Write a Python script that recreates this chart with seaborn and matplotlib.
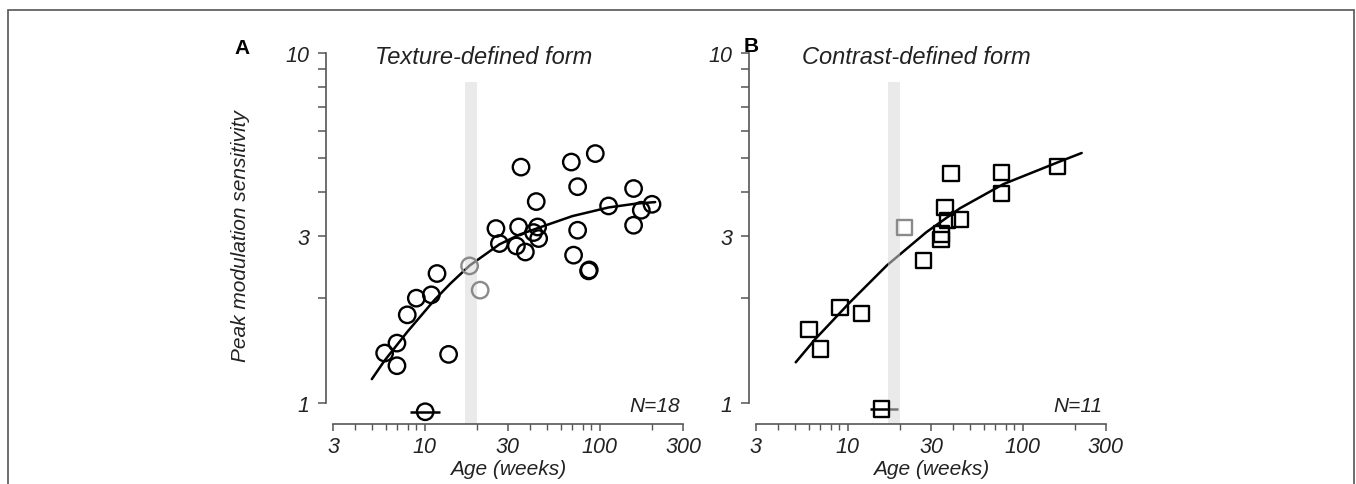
import numpy as np
import pandas as pd
import matplotlib
matplotlib.use("Agg")
import matplotlib.pyplot as plt
from matplotlib.ticker import NullFormatter
from matplotlib.patches import Rectangle
import seaborn as sns

# ---------------- data ----------------
texture_age = [5.92, 6.96, 6.96, 7.97, 8.98, 10.94, 11.79, 13.73, 25.6, 26.8, 33.5, 34.5,
               35.6, 37.7, 42.0, 43.5, 44.3, 44.9, 69.0, 71.1, 75.0, 75.0, 86.6, 87.4,
               94.6, 112.7, 156.6, 156.6, 173.3, 199.5]
texture_sens = [1.389, 1.483, 1.278, 1.786, 1.993, 2.037, 2.344, 1.377, 3.151, 2.855, 2.81, 3.184,
                4.72, 2.70, 3.069, 3.763, 3.184, 2.95, 4.88, 2.645, 4.15, 3.116, 2.385, 2.40,
                5.16, 3.656, 4.10, 3.22, 3.554, 3.696]
texture_gray_age = [18.1, 20.8]
texture_gray_sens = [2.465, 2.101]
texture_fit_age = [5.0, 5.9, 8.0, 11.3, 14.0, 18.1, 26.8, 35.0, 47.7, 70.0, 112.7, 160.0, 208]
texture_fit_sens = [1.17, 1.32, 1.60, 1.96, 2.19, 2.47, 2.84, 3.03, 3.20, 3.42, 3.62, 3.71, 3.75]
texture_ref = {"age": 10.09, "lo": 8.22, "hi": 12.31, "sens": 0.944}

contrast_age = [6.03, 7.03, 9.06, 12.05, 27.1, 34.2, 34.5, 36.1, 37.4, 39.0, 43.9, 76.1, 76.1, 158.9]
contrast_sens = [1.62, 1.427, 1.877, 1.804, 2.55, 2.93, 3.04, 3.62, 3.33, 4.53, 3.34, 4.56, 3.97, 4.73]
contrast_gray_age = [21.1]
contrast_gray_sens = [3.177]
contrast_fit_age = [5.06, 6.52, 10.33, 16.75, 28.3, 43.9, 77.7, 163.8, 217.9]
contrast_fit_sens = [1.307, 1.52, 1.94, 2.47, 3.08, 3.60, 4.22, 4.90, 5.18]
contrast_ref = {"age": 15.7, "lo": 13.4, "hi": 19.5, "sens": 0.961}

band = (17, 20)
x_major = [3, 10, 30, 100, 300]
x_minor = [4, 5, 6, 7, 8, 9, 20, 40, 50, 60, 70, 80, 90, 200]
y_major = [1, 3, 10]
y_minor = [2, 4, 5, 6, 7, 8, 9]

titles = ["Texture-defined form", "Contrast-defined form"]
letters = ["A", "B"]
n_labels = ["N=18", "N=11"]

# ---------------- style ----------------
sns.set_theme(style="ticks")
plt.rcParams["font.family"] = ["Liberation Sans", "DejaVu Sans"]

W, H = 1356, 485
fig = plt.figure(figsize=(W / 100, H / 100), dpi=100)
axA = fig.add_axes([333 / W, 1 - 425 / H, 350 / W, 371 / H])
axB = fig.add_axes([756 / W, 1 - 425 / H, 350 / W, 371 / H])

spine_col = "#555555"
text_col = "#222222"

panels = [
    (axA, texture_age, texture_sens, texture_gray_age, texture_gray_sens,
     texture_fit_age, texture_fit_sens, texture_ref, "o", 140),
    (axB, contrast_age, contrast_sens, contrast_gray_age, contrast_gray_sens,
     contrast_fit_age, contrast_fit_sens, contrast_ref, "s", 120),
]

for i, (ax, xa, ya, xg, yg, fx, fy, ref, mk, ms) in enumerate(panels):
    ax.set_xscale("log")
    ax.set_yscale("log")

    # fitted curve
    sns.lineplot(x=fx, y=fy, ax=ax, color="black", lw=1.8, sort=False,
                 estimator=None, zorder=2)
    # reference bar
    ax.hlines(ref["sens"], ref["lo"], ref["hi"], color="black", lw=1.8, zorder=2)

    # grey band
    ax.axvspan(band[0], band[1], ymin=0, ymax=0.922, color="#d9d9d9",
               alpha=0.55, lw=0, zorder=2.5)

    # data points
    sns.scatterplot(x=xa, y=ya, ax=ax, marker=mk, s=ms, facecolor="none",
                    edgecolor="black", linewidth=1.7, zorder=3)
    sns.scatterplot(x=xg, y=yg, ax=ax, marker=mk, s=ms, facecolor="none",
                    edgecolor="#8a8a8a", linewidth=1.7, zorder=3)
    sns.scatterplot(x=[ref["age"]], y=[ref["sens"]], ax=ax, marker=mk, s=ms,
                    facecolor="none", edgecolor="black", linewidth=1.7, zorder=3)
    for coll in ax.collections:
        try:
            coll.set_facecolor("none")
        except Exception:
            pass

    ax.set_xlim(3, 300)
    ax.set_ylim(0.871, 10)

    sns.despine(ax=ax)
    ax.spines["left"].set_position(("outward", 5))
    ax.spines["left"].set_bounds(1, 10)
    ax.spines["bottom"].set_bounds(3, 300)
    for s in ("left", "bottom"):
        ax.spines[s].set_color(spine_col)
        ax.spines[s].set_linewidth(1.2)

    ax.set_xticks(x_major)
    ax.set_xticklabels([str(v) for v in x_major])
    ax.set_xticks(x_minor, minor=True)
    ax.xaxis.set_minor_formatter(NullFormatter())
    ax.set_yticks(y_major)
    ax.set_yticklabels([str(v) for v in y_major])
    ax.set_yticks(y_minor, minor=True)
    ax.yaxis.set_minor_formatter(NullFormatter())

    ax.tick_params(axis="x", which="major", length=5, width=1.1, color=spine_col,
                   labelsize=15.5, labelcolor=text_col, pad=4)
    ax.tick_params(axis="x", which="minor", length=4, width=1.0, color=spine_col)
    ax.tick_params(axis="y", which="both", length=6, width=1.1, color=spine_col,
                   labelsize=15.5, labelcolor=text_col, pad=6)
    for lab in ax.get_xticklabels() + ax.get_yticklabels():
        lab.set_fontstyle("italic")

    ax.set_xlabel("")
    ax.set_ylabel("")
    ax.text(0.5, -0.121, "Age (weeks)", transform=ax.transAxes, ha="center",
            va="center", fontsize=15, style="italic", color=text_col)
    ax.text([0.43, 0.457][i], 0.99, titles[i], transform=ax.transAxes, ha="center",
            va="center", fontsize=17, style="italic", color=text_col)
    ax.text(0.991, 0.051, n_labels[i], transform=ax.transAxes, ha="right",
            va="center", fontsize=15, style="italic", color=text_col)

fig.text(241.7 / W, 1 - 48 / H, letters[0], fontsize=15, weight="bold",
         ha="center", va="center", color="black")
fig.text(751 / W, 1 - 46 / H, letters[1], fontsize=15, weight="bold",
         ha="center", va="center", color="black")
fig.text(241 / W, 1 - 236.5 / H, "Peak modulation sensitivity", rotation=90,
         fontsize=15, style="italic", ha="center", va="center", color=text_col)

fig.patches.append(Rectangle((8 / W, -0.05), (1354 - 8) / W, 1 - 10.7 / H + 0.05,
                             transform=fig.transFigure, fill=False,
                             edgecolor="#555555", lw=1.2))

fig.savefig("out.png", dpi=100)
